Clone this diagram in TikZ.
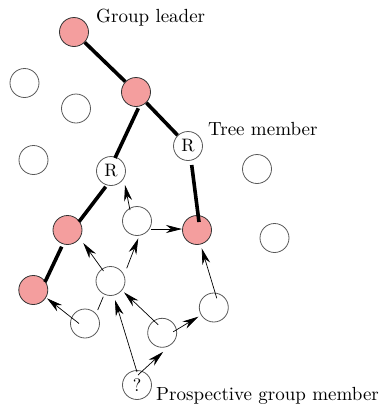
\documentclass[tikz,border=0pt]{standalone}
\usepackage{fontspec}
\newfontfamily\lmten{lmroman10-regular}[Extension=.otf]
\usetikzlibrary{arrows.meta}
\definecolor{pinkc}{RGB}{244,158,158}
\begin{document}
\begin{tikzpicture}[x=1pt,y=-1pt,
  nd/.style={circle,draw=black!65,line width=0.8pt,fill=white,minimum size=29pt,inner sep=0pt,font=\lmten\fontsize{18}{18}\selectfont},
  pk/.style={nd,draw=black!80,fill=pinkc},
  tedge/.style={line width=3.6pt},
  arr/.style={line width=0.7pt,-{Stealth[length=16pt,width=8pt,inset=5pt]}},
  plain/.style={line width=0.7pt},
  lbl/.style={anchor=base west,inner sep=0pt,font=\lmten\fontsize{19}{22}\selectfont}]
\useasboundingbox (0,0) rectangle (379,408);
% nodes
\node[pk] (gl) at (74,32) {};
\node[pk] (p2) at (136,92) {};
\node[nd] (e1) at (24.5,83) {};
\node[nd] (e2) at (76,108.5) {};
\node[nd] (e3) at (33.5,160) {};
\node[nd] (r1) at (111,171) {R};
\node[nd] (r2) at (188,146) {R};
\node[nd] (e4) at (257,169) {};
\node[pk] (pr) at (197,230) {};
\node[nd] (e5) at (274.5,238) {};
\node[pk] (pl) at (67.5,230) {};
\node[nd] (c1) at (137,221) {};
\node[pk] (pb) at (33.3,290) {};
\node[nd] (c2) at (110.5,281) {};
\node[nd] (c3) at (85,323.5) {};
\node[nd] (c4) at (162.2,332.8) {};
\node[nd] (c5) at (213.8,307.5) {};
\node[nd] (q) at (137,385) {?};
% labels
\node[lbl] (tgl) at (96,22) {Group leader};
\node[lbl] (ttm) at (208,135) {Tree member};
\node[lbl] (tpg) at (156,400) {Prospective group member};
% tree edges
\draw[tedge] (gl) -- (p2);
\draw[tedge] ([shift={(2.3,16.3)}]p2.center) -- ([shift={(4,-13)}]r1.center);
\draw[tedge] (p2) -- (r2);
\draw[tedge] ([shift={(3.7,19)}]r2.center) -- ([shift={(2,-8)}]pr.center);
\draw[tedge] ([shift={(-5.3,15.7)}]r1.center) -- ([shift={(11.5,-8.3)}]pl.center);
\draw[tedge] ([shift={(-5.8,16.7)}]pl.center) -- ([shift={(11.7,-8)}]pb.center);
% join request arrows
\draw[arr] ([shift={(-7,-11)}]c1.center) -- ([shift={(14,14)}]r1.center);
\draw[arr] ([shift={(14,8)}]c1.center) -- ([shift={(-15,-1)}]pr.center);
\draw[arr] ([shift={(-7,-10)}]c2.center) -- ([shift={(15.8,13)}]pl.center);
\draw[arr] ([shift={(16.2,-12.7)}]c2.center) -- ([shift={(1.3,17.3)}]c1.center);
\draw[arr] ([shift={(-4,-8)}]c4.center) -- ([shift={(13.5,11.3)}]c2.center);
\draw[arr] ([shift={(0,-13)}]q.center) -- ([shift={(4.5,19)}]c2.center);
\draw[arr] ([shift={(1,-10)}]q.center) -- ([shift={(1,19)}]c4.center);
\draw[arr] ([shift={(11,-1)}]c4.center) -- ([shift={(-15.5,9.2)}]c5.center);
\draw[arr] ([shift={(3,-9.2)}]c5.center) -- ([shift={(4.7,18.3)}]pr.center);
\draw[arr] ([shift={(-6,0)}]c3.center) -- ([shift={(13.7,8.3)}]pb.center);
\draw[plain] ([shift={(-7.2,15.7)}]c2.center) -- ([shift={(12.7,-13.5)}]c3.center);
\end{tikzpicture}
\end{document}
